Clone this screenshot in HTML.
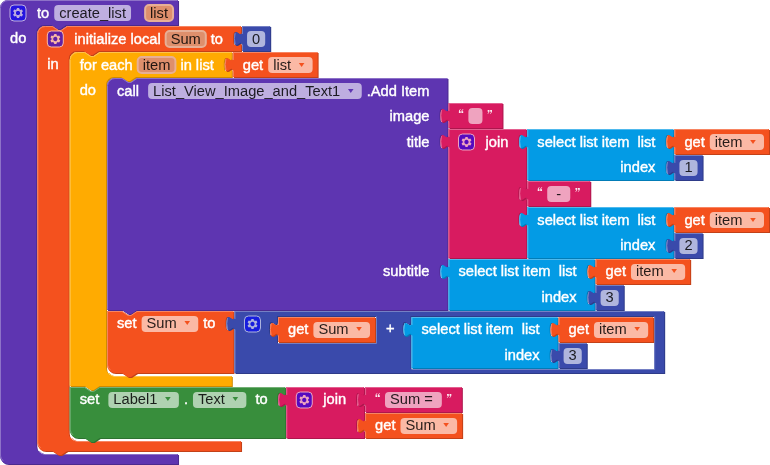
<!DOCTYPE html>
<html><head><meta charset="utf-8"><title>blocks</title>
<style>
html,body{margin:0;padding:0;background:#fff;}
svg{display:block}
text{font-family:"Liberation Sans", sans-serif;font-size:11pt;white-space:pre}
.l{fill:#fff;stroke:#fff;stroke-width:.4px}
.t{fill:#000;fill-opacity:.85}
.e{fill:#fff;fill-opacity:.6}
.p{fill:rgb(222,143,108);stroke:rgb(231,175,150);stroke-width:2}
</style></head><body>
<svg width="770" height="465" viewBox="0 0 770 465">
<rect width="770" height="465" fill="#fff"/>
<g style="opacity:0.999">
<g transform="translate(0,0)">
<path d="M 0,8 A 8,8 0 0,1 8,0 H 178.04 V 25 H 66.31 l -6,4 -3,0 -6,-4 h -7 a 8,8 0 0,0 -8,8 v 413 a 8,8 0 0,0 8,8 H 178.04 v 10 V 464 H 8 a 8,8 0 0,1 -8,-8 z" fill="#4b2a8e" fill-rule="evenodd" transform="translate(1,1)"/>
<path d="M 0,8 A 8,8 0 0,1 8,0 H 178.04 V 25 H 66.31 l -6,4 -3,0 -6,-4 h -7 a 8,8 0 0,0 -8,8 v 413 a 8,8 0 0,0 8,8 H 178.04 v 10 V 464 H 8 a 8,8 0 0,1 -8,-8 z" fill="#5E35B1" fill-rule="evenodd"/>
<path d="M 0.5,7.5 A 7.5,7.5 0 0,1 8,0.5 H 177.54 M 39.3,451.01 a 8.5,8.5 0 0,0 5.01,3.49 H 177.54 M 3.2,460.8 A 7.5,7.5 0 0,1 0.5,456 V 8" fill="none" stroke="#8e72c8" stroke-width="1"/>
</g>
<g transform="translate(10,5)" opacity="0.6"><rect width="16" height="16" rx="4" ry="4" fill="#00f" stroke="#fff" stroke-width="1"/><path d="m4.203,7.296 0,1.368 -0.92,0.677 -0.11,0.41 0.9,1.559 0.41,0.11 1.043,-0.457 1.187,0.683 0.127,1.134 0.3,0.3 1.8,0 0.3,-0.299 0.127,-1.138 1.185,-0.682 1.046,0.458 0.409,-0.11 0.9,-1.559 -0.11,-0.41 -0.92,-0.677 0,-1.366 0.92,-0.677 0.11,-0.41 -0.9,-1.559 -0.409,-0.109 -1.046,0.458 -1.185,-0.682 -0.127,-1.138 -0.3,-0.299 -1.8,0 -0.3,0.3 -0.126,1.135 -1.187,0.682 -1.043,-0.457 -0.41,0.11 -0.899,1.559 0.108,0.409z" fill="#fff"/><circle cx="8" cy="8" r="2.7" fill="#00f" stroke="#fff" stroke-width="1"/></g>
<text x="37" y="18" class="l">to</text>
<rect x="54.23" y="5" width="76.81" height="16" rx="4" ry="4" class="e"/>
<text x="59.23" y="18" class="t">create_list</text>
<rect x="145.12" y="5" width="27.92" height="16" rx="4" ry="4" class="p"/>
<text x="150.12" y="18" class="t">list</text>
<text x="10" y="43" class="l">do</text>
<g transform="translate(37.31,26)">
<path d="M 0,8 A 8,8 0 0,1 8,0 H 15 l 6,4 3,0 6,-4 H 203.73 H 203.73 v 5 c 0,10 -8,-8 -8,7.5 s 8,-2.5 8,7.5 v 5 H 61.42 l -6,4 -3,0 -6,-4 h -7 a 8,8 0 0,0 -8,8 v 374 a 8,8 0 0,0 8,8 H 203.73 v 10 V 425 H 30 l -6,4 -3,0 -6,-4 H 8 a 8,8 0 0,1 -8,-8 z" fill="#c34118" fill-rule="evenodd" transform="translate(1,1)"/>
<path d="M 0,8 A 8,8 0 0,1 8,0 H 15 l 6,4 3,0 6,-4 H 203.73 H 203.73 v 5 c 0,10 -8,-8 -8,7.5 s 8,-2.5 8,7.5 v 5 H 61.42 l -6,4 -3,0 -6,-4 h -7 a 8,8 0 0,0 -8,8 v 374 a 8,8 0 0,0 8,8 H 203.73 v 10 V 425 H 30 l -6,4 -3,0 -6,-4 H 8 a 8,8 0 0,1 -8,-8 z" fill="#F4511E" fill-rule="evenodd"/>
<path d="M 0.5,7.5 A 7.5,7.5 0 0,1 8,0.5 H 15 l 6,4 3,0 6,-4 H 203.23 M 198.73,19.3 l 3.68,-2.1 M 34.41,412.01 a 8.5,8.5 0 0,0 5.01,3.49 H 203.23 M 3.2,421.8 A 7.5,7.5 0 0,1 0.5,417 V 8" fill="none" stroke="#f78562" stroke-width="1"/>
</g>
<g transform="translate(47.31,31)" opacity="0.6"><rect width="16" height="16" rx="4" ry="4" fill="#00f" stroke="#fff" stroke-width="1"/><path d="m4.203,7.296 0,1.368 -0.92,0.677 -0.11,0.41 0.9,1.559 0.41,0.11 1.043,-0.457 1.187,0.683 0.127,1.134 0.3,0.3 1.8,0 0.3,-0.299 0.127,-1.138 1.185,-0.682 1.046,0.458 0.409,-0.11 0.9,-1.559 -0.11,-0.41 -0.92,-0.677 0,-1.366 0.92,-0.677 0.11,-0.41 -0.9,-1.559 -0.409,-0.109 -1.046,0.458 -1.185,-0.682 -0.127,-1.138 -0.3,-0.299 -1.8,0 -0.3,0.3 -0.126,1.135 -1.187,0.682 -1.043,-0.457 -0.41,0.11 -0.899,1.559 0.108,0.409z" fill="#fff"/><circle cx="8" cy="8" r="2.7" fill="#00f" stroke="#fff" stroke-width="1"/></g>
<text x="74.31" y="44" class="l">initialize&#160;local</text>
<rect x="165.67" y="31" width="40.14" height="16" rx="4" ry="4" class="p"/>
<text x="170.67" y="44" class="t">Sum</text>
<text x="210.81" y="44" class="l">to</text>
<text x="47.31" y="69" class="l">in</text>
<g transform="translate(242.04,26)">
<path d="M 0,0 H 28.16 V 25 V 25 H 0 V 20 c 0,-10 -8,8 -8,-7.5 s 8,2.5 8,-7.5 z" fill="#2e3b89" fill-rule="evenodd" transform="translate(1,1)"/>
<path d="M 0,0 H 28.16 V 25 V 25 H 0 V 20 c 0,-10 -8,8 -8,-7.5 s 8,2.5 8,-7.5 z" fill="#3A4AAB" fill-rule="evenodd"/>
<path d="M 0.5,0.5 H 27.66 M 0.5,24.5 V 18.5 m -7.36,-0.5 q -1.52,-5.5 0,-11 m 7.36,1 V 0.5 H 1" fill="none" stroke="#7580c4" stroke-width="1"/>
</g>
<rect x="247.04" y="31" width="18.16" height="16" rx="4" ry="4" class="e"/>
<text x="252.04" y="44" class="t">0</text>
<g transform="translate(69.73,52)">
<path d="M 0,8 A 8,8 0 0,1 8,0 H 15 l 6,4 3,0 6,-4 H 162.08 H 162.08 v 5 c 0,10 -8,-8 -8,7.5 s 8,-2.5 8,7.5 v 5 H 66.31 l -6,4 -3,0 -6,-4 h -7 a 8,8 0 0,0 -8,8 v 283 a 8,8 0 0,0 8,8 H 162.08 v 10 V 334 H 30 l -6,4 -3,0 -6,-4 H 0 z" fill="#cc8900" fill-rule="evenodd" transform="translate(1,1)"/>
<path d="M 0,8 A 8,8 0 0,1 8,0 H 15 l 6,4 3,0 6,-4 H 162.08 H 162.08 v 5 c 0,10 -8,-8 -8,7.5 s 8,-2.5 8,7.5 v 5 H 66.31 l -6,4 -3,0 -6,-4 h -7 a 8,8 0 0,0 -8,8 v 283 a 8,8 0 0,0 8,8 H 162.08 v 10 V 334 H 30 l -6,4 -3,0 -6,-4 H 0 z" fill="#FFAB00" fill-rule="evenodd"/>
<path d="M 0.5,7.5 A 7.5,7.5 0 0,1 8,0.5 H 15 l 6,4 3,0 6,-4 H 161.58 M 157.08,19.3 l 3.68,-2.1 M 39.3,321.01 a 8.5,8.5 0 0,0 5.01,3.49 H 161.58 M 0.5,333.5 V 8" fill="none" stroke="#ffc44c" stroke-width="1"/>
</g>
<text x="79.73" y="70" class="l">for&#160;each</text>
<rect x="137.7" y="57" width="37.7" height="16" rx="4" ry="4" class="p"/>
<text x="142.7" y="70" class="t">item</text>
<text x="180.4" y="70" class="l">in&#160;list</text>
<text x="79.73" y="95" class="l">do</text>
<g transform="translate(232.81,52)">
<path d="M 0,0 H 84.8 V 25 V 25 H 0 V 20 c 0,-10 -8,8 -8,-7.5 s 8,2.5 8,-7.5 z" fill="#c34118" fill-rule="evenodd" transform="translate(1,1)"/>
<path d="M 0,0 H 84.8 V 25 V 25 H 0 V 20 c 0,-10 -8,8 -8,-7.5 s 8,2.5 8,-7.5 z" fill="#F4511E" fill-rule="evenodd"/>
<path d="M 0.5,0.5 H 84.3 M 0.5,24.5 V 18.5 m -7.36,-0.5 q -1.52,-5.5 0,-11 m 7.36,1 V 0.5 H 1" fill="none" stroke="#f78562" stroke-width="1"/>
</g>
<text x="242.81" y="70" class="l">get</text>
<rect x="268.19" y="57" width="44.42" height="16" rx="4" ry="4" class="e"/>
<text x="273.19" y="70" class="t">list</text>
<path d="M 298.81,63.1 h 5.6 l -2.8,4 z" fill="#F4511E"/>
<g transform="translate(107.04,78)">
<path d="M 0,8 A 8,8 0 0,1 8,0 H 15 l 6,4 3,0 6,-4 H 340.45 V 25 H 340.45 v 5 c 0,10 -8,-8 -8,7.5 s 8,-2.5 8,7.5 v 6 H 340.45 v 5 c 0,10 -8,-8 -8,7.5 s 8,-2.5 8,7.5 v 110 H 340.45 v 5 c 0,10 -8,-8 -8,7.5 s 8,-2.5 8,7.5 v 31 V 232 H 30 l -6,4 -3,0 -6,-4 H 0 z" fill="#4b2a8e" fill-rule="evenodd" transform="translate(1,1)"/>
<path d="M 0,8 A 8,8 0 0,1 8,0 H 15 l 6,4 3,0 6,-4 H 340.45 V 25 H 340.45 v 5 c 0,10 -8,-8 -8,7.5 s 8,-2.5 8,7.5 v 6 H 340.45 v 5 c 0,10 -8,-8 -8,7.5 s 8,-2.5 8,7.5 v 110 H 340.45 v 5 c 0,10 -8,-8 -8,7.5 s 8,-2.5 8,7.5 v 31 V 232 H 30 l -6,4 -3,0 -6,-4 H 0 z" fill="#5E35B1" fill-rule="evenodd"/>
<path d="M 0.5,7.5 A 7.5,7.5 0 0,1 8,0.5 H 15 l 6,4 3,0 6,-4 H 339.95 M 335.45,44.3 l 3.68,-2.1 M 335.45,70.3 l 3.68,-2.1 M 335.45,200.3 l 3.68,-2.1 M 0.5,231.5 V 8" fill="none" stroke="#8e72c8" stroke-width="1"/>
</g>
<text x="117.04" y="96" class="l">call</text>
<rect x="148.12" y="83" width="213.64" height="16" rx="4" ry="4" class="e"/>
<text x="153.12" y="96" class="t">List_View_Image_and_Text1</text>
<path d="M 347.96,89.1 h 5.6 l -2.8,4 z" fill="#5E35B1"/>
<text x="366.76" y="96" class="l">.Add&#160;Item</text>
<text x="429.49" y="121" class="l" text-anchor="end">image</text>
<text x="429.49" y="147" class="l" text-anchor="end">title</text>
<text x="429.49" y="276" class="l" text-anchor="end">subtitle</text>
<g transform="translate(448.49,103)">
<path d="M 0,0 H 53.98 V 25 V 25 H 0 V 20 c 0,-10 -8,8 -8,-7.5 s 8,2.5 8,-7.5 z" fill="#ad164d" fill-rule="evenodd" transform="translate(1,1)"/>
<path d="M 0,0 H 53.98 V 25 V 25 H 0 V 20 c 0,-10 -8,8 -8,-7.5 s 8,2.5 8,-7.5 z" fill="#D81B60" fill-rule="evenodd"/>
<path d="M 0.5,0.5 H 53.48 M 0.5,24.5 V 18.5 m -7.36,-0.5 q -1.52,-5.5 0,-11 m 7.36,1 V 0.5 H 1" fill="none" stroke="#e45f90" stroke-width="1"/>
</g>
<g transform="translate(458.89,109)" fill="#fff" opacity="0.92"><path d="M1.9,0 C0.7,0.5 0,1.5 0,2.7 V4 H1.8 V2.2 H0.9 C0.9,1.5 1.3,0.9 1.9,0.6 Z"/><path d="M1.9,0 C0.7,0.5 0,1.5 0,2.7 V4 H1.8 V2.2 H0.9 C0.9,1.5 1.3,0.9 1.9,0.6 Z" transform="translate(2.5,0)"/></g>
<rect x="468.39" y="108" width="14.08" height="16" rx="4" ry="4" class="e"/>
<g transform="translate(491.97,114) rotate(180)" fill="#fff" opacity="0.92"><path d="M1.9,0 C0.7,0.5 0,1.5 0,2.7 V4 H1.8 V2.2 H0.9 C0.9,1.5 1.3,0.9 1.9,0.6 Z"/><path d="M1.9,0 C0.7,0.5 0,1.5 0,2.7 V4 H1.8 V2.2 H0.9 C0.9,1.5 1.3,0.9 1.9,0.6 Z" transform="translate(2.5,0)"/></g>
<g transform="translate(448.49,129)">
<path d="M 0,0 H 77.83 H 77.83 v 5 c 0,10 -8,-8 -8,7.5 s 8,-2.5 8,7.5 v 32 H 77.83 v 5 c 0,10 -8,-8 -8,7.5 s 8,-2.5 8,7.5 v 6 H 77.83 v 5 c 0,10 -8,-8 -8,7.5 s 8,-2.5 8,7.5 v 31 V 129 H 0 V 20 c 0,-10 -8,8 -8,-7.5 s 8,2.5 8,-7.5 z" fill="#ad164d" fill-rule="evenodd" transform="translate(1,1)"/>
<path d="M 0,0 H 77.83 H 77.83 v 5 c 0,10 -8,-8 -8,7.5 s 8,-2.5 8,7.5 v 32 H 77.83 v 5 c 0,10 -8,-8 -8,7.5 s 8,-2.5 8,7.5 v 6 H 77.83 v 5 c 0,10 -8,-8 -8,7.5 s 8,-2.5 8,7.5 v 31 V 129 H 0 V 20 c 0,-10 -8,8 -8,-7.5 s 8,2.5 8,-7.5 z" fill="#D81B60" fill-rule="evenodd"/>
<path d="M 0.5,0.5 H 77.33 M 72.83,19.3 l 3.68,-2.1 M 72.83,71.3 l 3.68,-2.1 M 72.83,97.3 l 3.68,-2.1 M 0.5,128.5 V 18.5 m -7.36,-0.5 q -1.52,-5.5 0,-11 m 7.36,1 V 0.5 H 1" fill="none" stroke="#e45f90" stroke-width="1"/>
</g>
<g transform="translate(458.49,134)" opacity="0.6"><rect width="16" height="16" rx="4" ry="4" fill="#00f" stroke="#fff" stroke-width="1"/><path d="m4.203,7.296 0,1.368 -0.92,0.677 -0.11,0.41 0.9,1.559 0.41,0.11 1.043,-0.457 1.187,0.683 0.127,1.134 0.3,0.3 1.8,0 0.3,-0.299 0.127,-1.138 1.185,-0.682 1.046,0.458 0.409,-0.11 0.9,-1.559 -0.11,-0.41 -0.92,-0.677 0,-1.366 0.92,-0.677 0.11,-0.41 -0.9,-1.559 -0.409,-0.109 -1.046,0.458 -1.185,-0.682 -0.127,-1.138 -0.3,-0.299 -1.8,0 -0.3,0.3 -0.126,1.135 -1.187,0.682 -1.043,-0.457 -0.41,0.11 -0.899,1.559 0.108,0.409z" fill="#fff"/><circle cx="8" cy="8" r="2.7" fill="#00f" stroke="#fff" stroke-width="1"/></g>
<text x="485.49" y="147" class="l">join</text>
<g transform="translate(527.32,129)">
<path d="M 0,0 H 146.09 H 146.09 v 5 c 0,10 -8,-8 -8,7.5 s 8,-2.5 8,7.5 v 6 H 146.09 v 5 c 0,10 -8,-8 -8,7.5 s 8,-2.5 8,7.5 v 5 V 51 H 0 V 20 c 0,-10 -8,8 -8,-7.5 s 8,2.5 8,-7.5 z" fill="#027cb7" fill-rule="evenodd" transform="translate(1,1)"/>
<path d="M 0,0 H 146.09 H 146.09 v 5 c 0,10 -8,-8 -8,7.5 s 8,-2.5 8,7.5 v 6 H 146.09 v 5 c 0,10 -8,-8 -8,7.5 s 8,-2.5 8,7.5 v 5 V 51 H 0 V 20 c 0,-10 -8,8 -8,-7.5 s 8,2.5 8,-7.5 z" fill="#039BE5" fill-rule="evenodd"/>
<path d="M 0.5,0.5 H 145.59 M 141.09,19.3 l 3.68,-2.1 M 141.09,45.3 l 3.68,-2.1 M 0.5,50.5 V 18.5 m -7.36,-0.5 q -1.52,-5.5 0,-11 m 7.36,1 V 0.5 H 1" fill="none" stroke="#4fb9ed" stroke-width="1"/>
</g>
<text x="537.32" y="147" class="l">select&#160;list&#160;item&#160;&#160;list</text>
<g transform="translate(674.41,129)">
<path d="M 0,0 H 94.58 V 25 V 25 H 0 V 20 c 0,-10 -8,8 -8,-7.5 s 8,2.5 8,-7.5 z" fill="#c34118" fill-rule="evenodd" transform="translate(1,1)"/>
<path d="M 0,0 H 94.58 V 25 V 25 H 0 V 20 c 0,-10 -8,8 -8,-7.5 s 8,2.5 8,-7.5 z" fill="#F4511E" fill-rule="evenodd"/>
<path d="M 0.5,0.5 H 94.08 M 0.5,24.5 V 18.5 m -7.36,-0.5 q -1.52,-5.5 0,-11 m 7.36,1 V 0.5 H 1" fill="none" stroke="#f78562" stroke-width="1"/>
</g>
<text x="684.41" y="147" class="l">get</text>
<rect x="709.79" y="134" width="54.2" height="16" rx="4" ry="4" class="e"/>
<text x="714.79" y="147" class="t">item</text>
<path d="M 750.19,140.1 h 5.6 l -2.8,4 z" fill="#F4511E"/>
<text x="655.41" y="172" class="l" text-anchor="end">index</text>
<g transform="translate(674.41,155)">
<path d="M 0,0 H 28.16 V 25 V 25 H 0 V 20 c 0,-10 -8,8 -8,-7.5 s 8,2.5 8,-7.5 z" fill="#2e3b89" fill-rule="evenodd" transform="translate(1,1)"/>
<path d="M 0,0 H 28.16 V 25 V 25 H 0 V 20 c 0,-10 -8,8 -8,-7.5 s 8,2.5 8,-7.5 z" fill="#3A4AAB" fill-rule="evenodd"/>
<path d="M 0.5,0.5 H 27.66 M 0.5,24.5 V 18.5 m -7.36,-0.5 q -1.52,-5.5 0,-11 m 7.36,1 V 0.5 H 1" fill="none" stroke="#7580c4" stroke-width="1"/>
</g>
<rect x="679.41" y="160" width="18.16" height="16" rx="4" ry="4" class="e"/>
<text x="684.41" y="172" class="t">1</text>
<g transform="translate(527.32,181)">
<path d="M 0,0 H 62.95 V 25 V 25 H 0 V 20 c 0,-10 -8,8 -8,-7.5 s 8,2.5 8,-7.5 z" fill="#ad164d" fill-rule="evenodd" transform="translate(1,1)"/>
<path d="M 0,0 H 62.95 V 25 V 25 H 0 V 20 c 0,-10 -8,8 -8,-7.5 s 8,2.5 8,-7.5 z" fill="#D81B60" fill-rule="evenodd"/>
<path d="M 0.5,0.5 H 62.45 M 0.5,24.5 V 18.5 m -7.36,-0.5 q -1.52,-5.5 0,-11 m 7.36,1 V 0.5 H 1" fill="none" stroke="#e45f90" stroke-width="1"/>
</g>
<g transform="translate(537.72,187)" fill="#fff" opacity="0.92"><path d="M1.9,0 C0.7,0.5 0,1.5 0,2.7 V4 H1.8 V2.2 H0.9 C0.9,1.5 1.3,0.9 1.9,0.6 Z"/><path d="M1.9,0 C0.7,0.5 0,1.5 0,2.7 V4 H1.8 V2.2 H0.9 C0.9,1.5 1.3,0.9 1.9,0.6 Z" transform="translate(2.5,0)"/></g>
<rect x="547.22" y="186" width="23.05" height="16" rx="4" ry="4" class="e"/>
<text x="552.22" y="199" class="t">&#160;-&#160;</text>
<g transform="translate(579.77,192) rotate(180)" fill="#fff" opacity="0.92"><path d="M1.9,0 C0.7,0.5 0,1.5 0,2.7 V4 H1.8 V2.2 H0.9 C0.9,1.5 1.3,0.9 1.9,0.6 Z"/><path d="M1.9,0 C0.7,0.5 0,1.5 0,2.7 V4 H1.8 V2.2 H0.9 C0.9,1.5 1.3,0.9 1.9,0.6 Z" transform="translate(2.5,0)"/></g>
<g transform="translate(527.32,207)">
<path d="M 0,0 H 146.09 H 146.09 v 5 c 0,10 -8,-8 -8,7.5 s 8,-2.5 8,7.5 v 6 H 146.09 v 5 c 0,10 -8,-8 -8,7.5 s 8,-2.5 8,7.5 v 5 V 51 H 0 V 20 c 0,-10 -8,8 -8,-7.5 s 8,2.5 8,-7.5 z" fill="#027cb7" fill-rule="evenodd" transform="translate(1,1)"/>
<path d="M 0,0 H 146.09 H 146.09 v 5 c 0,10 -8,-8 -8,7.5 s 8,-2.5 8,7.5 v 6 H 146.09 v 5 c 0,10 -8,-8 -8,7.5 s 8,-2.5 8,7.5 v 5 V 51 H 0 V 20 c 0,-10 -8,8 -8,-7.5 s 8,2.5 8,-7.5 z" fill="#039BE5" fill-rule="evenodd"/>
<path d="M 0.5,0.5 H 145.59 M 141.09,19.3 l 3.68,-2.1 M 141.09,45.3 l 3.68,-2.1 M 0.5,50.5 V 18.5 m -7.36,-0.5 q -1.52,-5.5 0,-11 m 7.36,1 V 0.5 H 1" fill="none" stroke="#4fb9ed" stroke-width="1"/>
</g>
<text x="537.32" y="225" class="l">select&#160;list&#160;item&#160;&#160;list</text>
<g transform="translate(674.41,207)">
<path d="M 0,0 H 94.58 V 25 V 25 H 0 V 20 c 0,-10 -8,8 -8,-7.5 s 8,2.5 8,-7.5 z" fill="#c34118" fill-rule="evenodd" transform="translate(1,1)"/>
<path d="M 0,0 H 94.58 V 25 V 25 H 0 V 20 c 0,-10 -8,8 -8,-7.5 s 8,2.5 8,-7.5 z" fill="#F4511E" fill-rule="evenodd"/>
<path d="M 0.5,0.5 H 94.08 M 0.5,24.5 V 18.5 m -7.36,-0.5 q -1.52,-5.5 0,-11 m 7.36,1 V 0.5 H 1" fill="none" stroke="#f78562" stroke-width="1"/>
</g>
<text x="684.41" y="225" class="l">get</text>
<rect x="709.79" y="212" width="54.2" height="16" rx="4" ry="4" class="e"/>
<text x="714.79" y="225" class="t">item</text>
<path d="M 750.19,218.1 h 5.6 l -2.8,4 z" fill="#F4511E"/>
<text x="655.41" y="250" class="l" text-anchor="end">index</text>
<g transform="translate(674.41,233)">
<path d="M 0,0 H 28.16 V 25 V 25 H 0 V 20 c 0,-10 -8,8 -8,-7.5 s 8,2.5 8,-7.5 z" fill="#2e3b89" fill-rule="evenodd" transform="translate(1,1)"/>
<path d="M 0,0 H 28.16 V 25 V 25 H 0 V 20 c 0,-10 -8,8 -8,-7.5 s 8,2.5 8,-7.5 z" fill="#3A4AAB" fill-rule="evenodd"/>
<path d="M 0.5,0.5 H 27.66 M 0.5,24.5 V 18.5 m -7.36,-0.5 q -1.52,-5.5 0,-11 m 7.36,1 V 0.5 H 1" fill="none" stroke="#7580c4" stroke-width="1"/>
</g>
<rect x="679.41" y="238" width="18.16" height="16" rx="4" ry="4" class="e"/>
<text x="684.41" y="250" class="t">2</text>
<g transform="translate(448.49,259)">
<path d="M 0,0 H 146.09 H 146.09 v 5 c 0,10 -8,-8 -8,7.5 s 8,-2.5 8,7.5 v 6 H 146.09 v 5 c 0,10 -8,-8 -8,7.5 s 8,-2.5 8,7.5 v 5 V 51 H 0 V 20 c 0,-10 -8,8 -8,-7.5 s 8,2.5 8,-7.5 z" fill="#027cb7" fill-rule="evenodd" transform="translate(1,1)"/>
<path d="M 0,0 H 146.09 H 146.09 v 5 c 0,10 -8,-8 -8,7.5 s 8,-2.5 8,7.5 v 6 H 146.09 v 5 c 0,10 -8,-8 -8,7.5 s 8,-2.5 8,7.5 v 5 V 51 H 0 V 20 c 0,-10 -8,8 -8,-7.5 s 8,2.5 8,-7.5 z" fill="#039BE5" fill-rule="evenodd"/>
<path d="M 0.5,0.5 H 145.59 M 141.09,19.3 l 3.68,-2.1 M 141.09,45.3 l 3.68,-2.1 M 0.5,50.5 V 18.5 m -7.36,-0.5 q -1.52,-5.5 0,-11 m 7.36,1 V 0.5 H 1" fill="none" stroke="#4fb9ed" stroke-width="1"/>
</g>
<text x="458.49" y="276" class="l">select&#160;list&#160;item&#160;&#160;list</text>
<g transform="translate(595.58,259)">
<path d="M 0,0 H 94.58 V 25 V 25 H 0 V 20 c 0,-10 -8,8 -8,-7.5 s 8,2.5 8,-7.5 z" fill="#c34118" fill-rule="evenodd" transform="translate(1,1)"/>
<path d="M 0,0 H 94.58 V 25 V 25 H 0 V 20 c 0,-10 -8,8 -8,-7.5 s 8,2.5 8,-7.5 z" fill="#F4511E" fill-rule="evenodd"/>
<path d="M 0.5,0.5 H 94.08 M 0.5,24.5 V 18.5 m -7.36,-0.5 q -1.52,-5.5 0,-11 m 7.36,1 V 0.5 H 1" fill="none" stroke="#f78562" stroke-width="1"/>
</g>
<text x="605.58" y="276" class="l">get</text>
<rect x="630.96" y="264" width="54.2" height="16" rx="4" ry="4" class="e"/>
<text x="635.96" y="276" class="t">item</text>
<path d="M 671.36,269.1 h 5.6 l -2.8,4 z" fill="#F4511E"/>
<text x="576.58" y="302" class="l" text-anchor="end">index</text>
<g transform="translate(595.58,285)">
<path d="M 0,0 H 28.16 V 25 V 25 H 0 V 20 c 0,-10 -8,8 -8,-7.5 s 8,2.5 8,-7.5 z" fill="#2e3b89" fill-rule="evenodd" transform="translate(1,1)"/>
<path d="M 0,0 H 28.16 V 25 V 25 H 0 V 20 c 0,-10 -8,8 -8,-7.5 s 8,2.5 8,-7.5 z" fill="#3A4AAB" fill-rule="evenodd"/>
<path d="M 0.5,0.5 H 27.66 M 0.5,24.5 V 18.5 m -7.36,-0.5 q -1.52,-5.5 0,-11 m 7.36,1 V 0.5 H 1" fill="none" stroke="#7580c4" stroke-width="1"/>
</g>
<rect x="600.58" y="290" width="18.16" height="16" rx="4" ry="4" class="e"/>
<text x="605.58" y="302" class="t">3</text>
<g transform="translate(107.04,311)">
<path d="M 0,0 H 15 l 6,4 3,0 6,-4 H 126.43 H 126.43 v 5 c 0,10 -8,-8 -8,7.5 s 8,-2.5 8,7.5 v 42 V 62 H 30 l -6,4 -3,0 -6,-4 H 8 a 8,8 0 0,1 -8,-8 z" fill="#c34118" fill-rule="evenodd" transform="translate(1,1)"/>
<path d="M 0,0 H 15 l 6,4 3,0 6,-4 H 126.43 H 126.43 v 5 c 0,10 -8,-8 -8,7.5 s 8,-2.5 8,7.5 v 42 V 62 H 30 l -6,4 -3,0 -6,-4 H 8 a 8,8 0 0,1 -8,-8 z" fill="#F4511E" fill-rule="evenodd"/>
<path d="M 0.5,0.5 H 15 l 6,4 3,0 6,-4 H 125.93 M 121.43,19.3 l 3.68,-2.1 M 3.2,58.8 A 7.5,7.5 0 0,1 0.5,54 V 0.5" fill="none" stroke="#f78562" stroke-width="1"/>
</g>
<text x="117.04" y="328" class="l">set</text>
<rect x="141.6" y="316" width="56.64" height="16" rx="4" ry="4" class="e"/>
<text x="146.6" y="328" class="t">Sum</text>
<path d="M 184.44,321.1 h 5.6 l -2.8,4 z" fill="#F4511E"/>
<text x="203.24" y="328" class="l">to</text>
<g transform="translate(234.47,311)">
<path d="M 0,0 H 429.7 V 62 V 62 H 0 V 20 c 0,-10 -8,8 -8,-7.5 s 8,2.5 8,-7.5 z M 141.55,5 h -99.02 v 5 c 0,10 -8,-8 -8,7.5 s 8,-2.5 8,7.5 v 7 h 99.02 z M 419.7,5 h -243.67 v 5 c 0,10 -8,-8 -8,7.5 s 8,-2.5 8,7.5 v 33 h 243.67 z" fill="#2e3b89" fill-rule="evenodd" transform="translate(1,1)"/>
<path d="M 0,0 H 429.7 V 62 V 62 H 0 V 20 c 0,-10 -8,8 -8,-7.5 s 8,2.5 8,-7.5 z M 141.55,5 h -99.02 v 5 c 0,10 -8,-8 -8,7.5 s 8,-2.5 8,7.5 v 7 h 99.02 z M 419.7,5 h -243.67 v 5 c 0,10 -8,-8 -8,7.5 s 8,-2.5 8,7.5 v 33 h 243.67 z" fill="#3A4AAB" fill-rule="evenodd"/>
<path d="M 0.5,0.5 H 429.2 M 0.5,61.5 V 18.5 m -7.36,-0.5 q -1.52,-5.5 0,-11 m 7.36,1 V 0.5 H 1 M 142.05,5.5 v 27 h -98.52 M 420.2,5.5 v 53 h -243.17" fill="none" stroke="#7580c4" stroke-width="1"/>
</g>
<g transform="translate(244.47,316)" opacity="0.6"><rect width="16" height="16" rx="4" ry="4" fill="#00f" stroke="#fff" stroke-width="1"/><path d="m4.203,7.296 0,1.368 -0.92,0.677 -0.11,0.41 0.9,1.559 0.41,0.11 1.043,-0.457 1.187,0.683 0.127,1.134 0.3,0.3 1.8,0 0.3,-0.299 0.127,-1.138 1.185,-0.682 1.046,0.458 0.409,-0.11 0.9,-1.559 -0.11,-0.41 -0.92,-0.677 0,-1.366 0.92,-0.677 0.11,-0.41 -0.9,-1.559 -0.409,-0.109 -1.046,0.458 -1.185,-0.682 -0.127,-1.138 -0.3,-0.299 -1.8,0 -0.3,0.3 -0.126,1.135 -1.187,0.682 -1.043,-0.457 -0.41,0.11 -0.899,1.559 0.108,0.409z" fill="#fff"/><circle cx="8" cy="8" r="2.7" fill="#00f" stroke="#fff" stroke-width="1"/></g>
<g transform="translate(278,317)">
<path d="M 0,0 H 97.02 V 25 V 25 H 0 V 20 c 0,-10 -8,8 -8,-7.5 s 8,2.5 8,-7.5 z" fill="#c34118" fill-rule="evenodd" transform="translate(1,1)"/>
<path d="M 0,0 H 97.02 V 25 V 25 H 0 V 20 c 0,-10 -8,8 -8,-7.5 s 8,2.5 8,-7.5 z" fill="#F4511E" fill-rule="evenodd"/>
<path d="M 0.5,0.5 H 96.52 M 0.5,24.5 V 18.5 m -7.36,-0.5 q -1.52,-5.5 0,-11 m 7.36,1 V 0.5 H 1" fill="none" stroke="#f78562" stroke-width="1"/>
</g>
<text x="288" y="334" class="l">get</text>
<rect x="313.38" y="322" width="56.64" height="16" rx="4" ry="4" class="e"/>
<text x="318.38" y="334" class="t">Sum</text>
<path d="M 356.22,327.1 h 5.6 l -2.8,4 z" fill="#F4511E"/>
<text x="386.02" y="333" class="l">+</text>
<g transform="translate(411.5,317)">
<path d="M 0,0 H 146.09 H 146.09 v 5 c 0,10 -8,-8 -8,7.5 s 8,-2.5 8,7.5 v 6 H 146.09 v 5 c 0,10 -8,-8 -8,7.5 s 8,-2.5 8,7.5 v 5 V 51 H 0 V 20 c 0,-10 -8,8 -8,-7.5 s 8,2.5 8,-7.5 z" fill="#027cb7" fill-rule="evenodd" transform="translate(1,1)"/>
<path d="M 0,0 H 146.09 H 146.09 v 5 c 0,10 -8,-8 -8,7.5 s 8,-2.5 8,7.5 v 6 H 146.09 v 5 c 0,10 -8,-8 -8,7.5 s 8,-2.5 8,7.5 v 5 V 51 H 0 V 20 c 0,-10 -8,8 -8,-7.5 s 8,2.5 8,-7.5 z" fill="#039BE5" fill-rule="evenodd"/>
<path d="M 0.5,0.5 H 145.59 M 141.09,19.3 l 3.68,-2.1 M 141.09,45.3 l 3.68,-2.1 M 0.5,50.5 V 18.5 m -7.36,-0.5 q -1.52,-5.5 0,-11 m 7.36,1 V 0.5 H 1" fill="none" stroke="#4fb9ed" stroke-width="1"/>
</g>
<text x="421.5" y="334" class="l">select&#160;list&#160;item&#160;&#160;list</text>
<g transform="translate(558.59,317)">
<path d="M 0,0 H 94.58 V 25 V 25 H 0 V 20 c 0,-10 -8,8 -8,-7.5 s 8,2.5 8,-7.5 z" fill="#c34118" fill-rule="evenodd" transform="translate(1,1)"/>
<path d="M 0,0 H 94.58 V 25 V 25 H 0 V 20 c 0,-10 -8,8 -8,-7.5 s 8,2.5 8,-7.5 z" fill="#F4511E" fill-rule="evenodd"/>
<path d="M 0.5,0.5 H 94.08 M 0.5,24.5 V 18.5 m -7.36,-0.5 q -1.52,-5.5 0,-11 m 7.36,1 V 0.5 H 1" fill="none" stroke="#f78562" stroke-width="1"/>
</g>
<text x="568.59" y="334" class="l">get</text>
<rect x="593.97" y="322" width="54.2" height="16" rx="4" ry="4" class="e"/>
<text x="598.97" y="334" class="t">item</text>
<path d="M 634.37,327.1 h 5.6 l -2.8,4 z" fill="#F4511E"/>
<text x="539.59" y="360" class="l" text-anchor="end">index</text>
<g transform="translate(558.59,343)">
<path d="M 0,0 H 28.16 V 25 V 25 H 0 V 20 c 0,-10 -8,8 -8,-7.5 s 8,2.5 8,-7.5 z" fill="#2e3b89" fill-rule="evenodd" transform="translate(1,1)"/>
<path d="M 0,0 H 28.16 V 25 V 25 H 0 V 20 c 0,-10 -8,8 -8,-7.5 s 8,2.5 8,-7.5 z" fill="#3A4AAB" fill-rule="evenodd"/>
<path d="M 0.5,0.5 H 27.66 M 0.5,24.5 V 18.5 m -7.36,-0.5 q -1.52,-5.5 0,-11 m 7.36,1 V 0.5 H 1" fill="none" stroke="#7580c4" stroke-width="1"/>
</g>
<rect x="563.59" y="348" width="18.16" height="16" rx="4" ry="4" class="e"/>
<text x="568.59" y="360" class="t">3</text>
<g transform="translate(69.73,387)">
<path d="M 0,0 H 15 l 6,4 3,0 6,-4 H 215.54 H 215.54 v 5 c 0,10 -8,-8 -8,7.5 s 8,-2.5 8,7.5 v 31 V 51 H 30 l -6,4 -3,0 -6,-4 H 8 a 8,8 0 0,1 -8,-8 z" fill="#2d7230" fill-rule="evenodd" transform="translate(1,1)"/>
<path d="M 0,0 H 15 l 6,4 3,0 6,-4 H 215.54 H 215.54 v 5 c 0,10 -8,-8 -8,7.5 s 8,-2.5 8,7.5 v 31 V 51 H 30 l -6,4 -3,0 -6,-4 H 8 a 8,8 0 0,1 -8,-8 z" fill="#388E3C" fill-rule="evenodd"/>
<path d="M 0.5,0.5 H 15 l 6,4 3,0 6,-4 H 215.04 M 210.54,19.3 l 3.68,-2.1 M 3.2,47.8 A 7.5,7.5 0 0,1 0.5,43 V 0.5" fill="none" stroke="#74b076" stroke-width="1"/>
</g>
<text x="79.73" y="404" class="l">set</text>
<rect x="108.37" y="392" width="70.52" height="16" rx="4" ry="4" class="e"/>
<text x="113.37" y="404" class="t">Label1</text>
<path d="M 165.09,397.1 h 5.6 l -2.8,4 z" fill="#388E3C"/>
<text x="183.89" y="404" class="l">.</text>
<rect x="192.97" y="392" width="53.39" height="16" rx="4" ry="4" class="e"/>
<text x="197.97" y="404" class="t">Text</text>
<path d="M 232.56,397.1 h 5.6 l -2.8,4 z" fill="#388E3C"/>
<text x="255.44" y="404" class="l">to</text>
<g transform="translate(286.27,387)">
<path d="M 0,0 H 77.83 H 77.83 v 5 c 0,10 -8,-8 -8,7.5 s 8,-2.5 8,7.5 v 6 H 77.83 v 5 c 0,10 -8,-8 -8,7.5 s 8,-2.5 8,7.5 v 5 V 51 H 0 V 20 c 0,-10 -8,8 -8,-7.5 s 8,2.5 8,-7.5 z" fill="#ad164d" fill-rule="evenodd" transform="translate(1,1)"/>
<path d="M 0,0 H 77.83 H 77.83 v 5 c 0,10 -8,-8 -8,7.5 s 8,-2.5 8,7.5 v 6 H 77.83 v 5 c 0,10 -8,-8 -8,7.5 s 8,-2.5 8,7.5 v 5 V 51 H 0 V 20 c 0,-10 -8,8 -8,-7.5 s 8,2.5 8,-7.5 z" fill="#D81B60" fill-rule="evenodd"/>
<path d="M 0.5,0.5 H 77.33 M 72.83,19.3 l 3.68,-2.1 M 72.83,45.3 l 3.68,-2.1 M 0.5,50.5 V 18.5 m -7.36,-0.5 q -1.52,-5.5 0,-11 m 7.36,1 V 0.5 H 1" fill="none" stroke="#e45f90" stroke-width="1"/>
</g>
<g transform="translate(296.27,392)" opacity="0.6"><rect width="16" height="16" rx="4" ry="4" fill="#00f" stroke="#fff" stroke-width="1"/><path d="m4.203,7.296 0,1.368 -0.92,0.677 -0.11,0.41 0.9,1.559 0.41,0.11 1.043,-0.457 1.187,0.683 0.127,1.134 0.3,0.3 1.8,0 0.3,-0.299 0.127,-1.138 1.185,-0.682 1.046,0.458 0.409,-0.11 0.9,-1.559 -0.11,-0.41 -0.92,-0.677 0,-1.366 0.92,-0.677 0.11,-0.41 -0.9,-1.559 -0.409,-0.109 -1.046,0.458 -1.185,-0.682 -0.127,-1.138 -0.3,-0.299 -1.8,0 -0.3,0.3 -0.126,1.135 -1.187,0.682 -1.043,-0.457 -0.41,0.11 -0.899,1.559 0.108,0.409z" fill="#fff"/><circle cx="8" cy="8" r="2.7" fill="#00f" stroke="#fff" stroke-width="1"/></g>
<text x="323.27" y="404" class="l">join</text>
<g transform="translate(365.1,387)">
<path d="M 0,0 H 96.74 V 25 V 25 H 0 V 20 c 0,-10 -8,8 -8,-7.5 s 8,2.5 8,-7.5 z" fill="#ad164d" fill-rule="evenodd" transform="translate(1,1)"/>
<path d="M 0,0 H 96.74 V 25 V 25 H 0 V 20 c 0,-10 -8,8 -8,-7.5 s 8,2.5 8,-7.5 z" fill="#D81B60" fill-rule="evenodd"/>
<path d="M 0.5,0.5 H 96.24 M 0.5,24.5 V 18.5 m -7.36,-0.5 q -1.52,-5.5 0,-11 m 7.36,1 V 0.5 H 1" fill="none" stroke="#e45f90" stroke-width="1"/>
</g>
<g transform="translate(375.5,393)" fill="#fff" opacity="0.92"><path d="M1.9,0 C0.7,0.5 0,1.5 0,2.7 V4 H1.8 V2.2 H0.9 C0.9,1.5 1.3,0.9 1.9,0.6 Z"/><path d="M1.9,0 C0.7,0.5 0,1.5 0,2.7 V4 H1.8 V2.2 H0.9 C0.9,1.5 1.3,0.9 1.9,0.6 Z" transform="translate(2.5,0)"/></g>
<rect x="385" y="392" width="56.84" height="16" rx="4" ry="4" class="e"/>
<text x="390" y="404" class="t">Sum&#160;=&#160;</text>
<g transform="translate(451.34,398) rotate(180)" fill="#fff" opacity="0.92"><path d="M1.9,0 C0.7,0.5 0,1.5 0,2.7 V4 H1.8 V2.2 H0.9 C0.9,1.5 1.3,0.9 1.9,0.6 Z"/><path d="M1.9,0 C0.7,0.5 0,1.5 0,2.7 V4 H1.8 V2.2 H0.9 C0.9,1.5 1.3,0.9 1.9,0.6 Z" transform="translate(2.5,0)"/></g>
<g transform="translate(365.1,413)">
<path d="M 0,0 H 97.02 V 25 V 25 H 0 V 20 c 0,-10 -8,8 -8,-7.5 s 8,2.5 8,-7.5 z" fill="#c34118" fill-rule="evenodd" transform="translate(1,1)"/>
<path d="M 0,0 H 97.02 V 25 V 25 H 0 V 20 c 0,-10 -8,8 -8,-7.5 s 8,2.5 8,-7.5 z" fill="#F4511E" fill-rule="evenodd"/>
<path d="M 0.5,0.5 H 96.52 M 0.5,24.5 V 18.5 m -7.36,-0.5 q -1.52,-5.5 0,-11 m 7.36,1 V 0.5 H 1" fill="none" stroke="#f78562" stroke-width="1"/>
</g>
<text x="375.1" y="430" class="l">get</text>
<rect x="400.48" y="418" width="56.64" height="16" rx="4" ry="4" class="e"/>
<text x="405.48" y="430" class="t">Sum</text>
<path d="M 443.32,423.1 h 5.6 l -2.8,4 z" fill="#F4511E"/>
</g>
</svg>
</body></html>
